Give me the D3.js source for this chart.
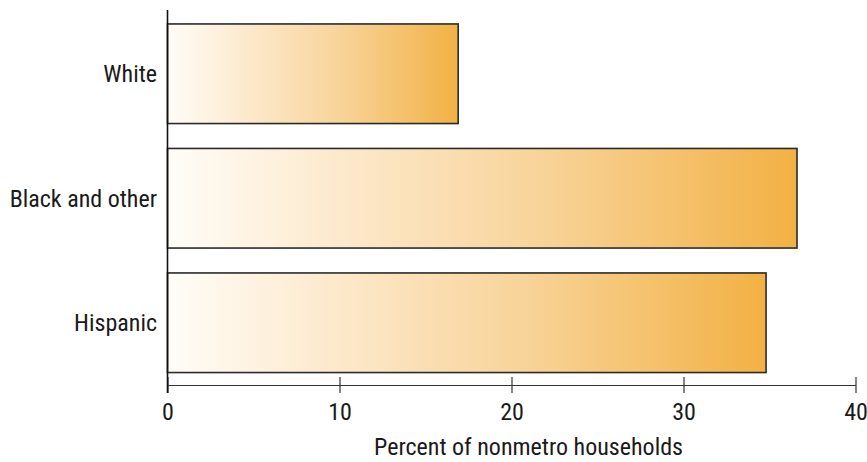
<!DOCTYPE html>
<html><head><meta charset="utf-8">
<script src="https://cdn.jsdelivr.net/npm/d3@7"></script>
<style>body{margin:0;background:#fff}svg{display:block}text{font-family:"Liberation Sans Narrow","Roboto Condensed","Liberation Sans",sans-serif;fill:#1a1a1a}</style>
</head><body><svg id="c" width="867" height="462"></svg>
<script>
const categories = ["White", "Black and other", "Hispanic"];
const values = [16.9, 36.6, 34.8];
const xTicks = [0, 10, 20, 30, 40];
const xTitle = "Percent of nonmetro households";

const svg = d3.select("#c");
const x = d3.scaleLinear().domain([0, 40]).range([167.5, 855.5]);
const y = d3.scaleBand().domain(categories).range([11.5, 385]).paddingInner(0.2).paddingOuter(0.1);

const defs = svg.append("defs");
const g = defs.append("linearGradient").attr("id", "grad").attr("x1", 0).attr("x2", 1).attr("y1", 0).attr("y2", 0);
g.append("stop").attr("offset", "0%").attr("stop-color", "#fffdf8");
g.append("stop").attr("offset", "25%").attr("stop-color", "#fdebd0");
g.append("stop").attr("offset", "60%").attr("stop-color", "#f8d398");
g.append("stop").attr("offset", "100%").attr("stop-color", "#f2b144");

svg.selectAll("rect.bar").data(categories).enter().append("rect")
  .attr("class", "bar")
  .attr("x", x(0))
  .attr("y", d => y(d))
  .attr("width", (d, i) => x(values[i]) - x(0))
  .attr("height", y.bandwidth())
  .attr("fill", "url(#grad)")
  .attr("stroke", "#2b2b2b").attr("stroke-width", 1.6);

// category labels
svg.selectAll("text.cat").data(categories).enter().append("text")
  .attr("class", "cat")
  .attr("x", 157).attr("y", d => y(d) + y.bandwidth() / 2)
  .attr("dy", "0.35em").attr("text-anchor", "end")
  .attr("font-size", 24).text(d => d);

// x axis
const ax = svg.append("g").attr("transform", "translate(0,385)")
  .call(d3.axisBottom(x).tickValues(xTicks).tickSize(8).tickSizeOuter(0).tickPadding(10));
ax.select(".domain").attr("stroke", "#333").attr("stroke-width", 1.2);
ax.selectAll(".tick line").attr("y1", -8).attr("y2", 8).attr("stroke", "#333").attr("stroke-width", 1.2);
ax.selectAll(".tick text").attr("font-size", 24).attr("fill", "#1a1a1a")
  .style("font-family", '"Liberation Sans Narrow","Roboto Condensed","Liberation Sans",sans-serif');

// vertical axis
svg.append("line").attr("x1", x(0)).attr("x2", x(0)).attr("y1", 10).attr("y2", 393)
  .attr("stroke", "#111").attr("stroke-width", 1.6);

svg.append("text").attr("x", (x(0) + x(40)) / 2 + 17).attr("y", 455)
  .attr("text-anchor", "middle").attr("font-size", 24).text(xTitle);
</script></body></html>
